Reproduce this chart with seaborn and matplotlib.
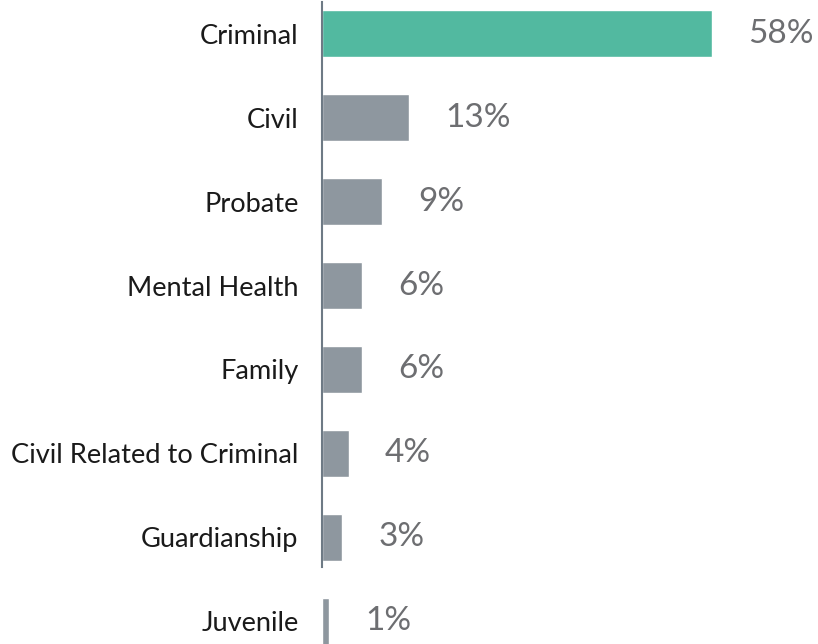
import matplotlib
matplotlib.use("Agg")
import matplotlib.pyplot as plt
import seaborn as sns
import pandas as pd

categories = ["Criminal", "Civil", "Probate", "Mental Health", "Family",
              "Civil Related to Criminal", "Guardianship", "Juvenile"]
values = [58, 13, 9, 6, 6, 4, 3, 1]
value_labels = ["58%", "13%", "9%", "6%", "6%", "4%", "3%", "1%"]
colors = ["#52B9A0", "#8E979F", "#8E979F", "#8E979F", "#8E979F",
          "#8E979F", "#8E979F", "#8E979F"]

sns.set_theme(style="white")
plt.rcParams['font.family'] = ['Lato', 'DejaVu Sans']

df = pd.DataFrame({"category": categories, "value": values})

fig = plt.figure(figsize=(8.18, 6.44), dpi=100)
ax = fig.add_axes([322 / 818, 0, 1 - 322 / 818, 1])

sns.barplot(data=df, x="value", y="category", hue="category",
            palette=colors, legend=False, width=0.55, saturation=1,
            orient="h", ax=ax)

ax.set_xlim(0, 496 / 6.72)
ax.set_ylim(7.268, -0.399)

for cont, lab in zip(ax.containers, value_labels):
    ax.bar_label(cont, labels=[lab], padding=26, fontsize=24, color="#6D6E71")

ax.set_xlabel("")
ax.set_ylabel("")
ax.set_xticks([])
ax.tick_params(axis="y", length=0, pad=17, labelsize=19.6, labelcolor="#1a1a1a")

for s in ["top", "right", "bottom"]:
    ax.spines[s].set_visible(False)
ax.spines["left"].set_color("#6E7A85")
ax.spines["left"].set_linewidth(1.5)
ax.spines["left"].set_bounds(-0.375, 6.35)

fig.savefig("out.png", dpi=100)
